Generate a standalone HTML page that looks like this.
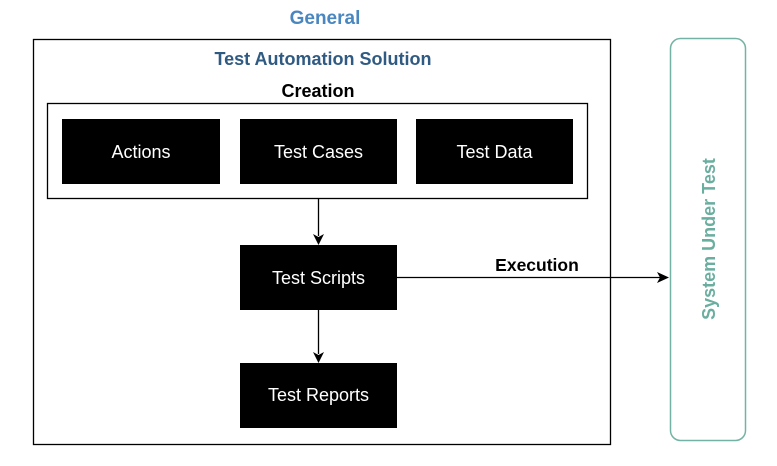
<!DOCTYPE html>
<html><head><style>body{margin:0;background:#fff}</style></head><body>
<svg width="777" height="461" xmlns="http://www.w3.org/2000/svg" font-family="Liberation Sans, Arial, sans-serif">
<rect width="777" height="461" fill="#fff"/>
<text x="325" y="24" font-size="19" font-weight="bold" fill="#4a86bf" text-anchor="middle">General</text>
<rect x="33.5" y="39.5" width="577" height="405" fill="none" stroke="#000" stroke-width="1.3"/>
<text x="323" y="65" font-size="18" font-weight="bold" fill="#2f5a82" text-anchor="middle">Test Automation Solution</text>
<text x="318" y="97" font-size="18" font-weight="bold" fill="#000" text-anchor="middle">Creation</text>
<rect x="47.5" y="103.5" width="540" height="95" fill="none" stroke="#000" stroke-width="1.3"/>
<g fill="#000">
<rect x="62" y="119" width="158" height="65"/>
<rect x="240" y="119" width="157" height="65"/>
<rect x="416" y="119" width="157" height="65"/>
<rect x="240" y="245" width="157" height="65"/>
<rect x="240" y="363" width="157" height="65"/>
</g>
<g fill="#fff" font-size="18" text-anchor="middle">
<text x="141" y="158">Actions</text>
<text x="318.5" y="158">Test Cases</text>
<text x="494.5" y="158">Test Data</text>
<text x="318.5" y="284">Test Scripts</text>
<text x="318.5" y="401">Test Reports</text>
</g>
<g stroke="#000" stroke-width="1.3">
<line x1="318.5" y1="199" x2="318.5" y2="236"/>
<line x1="318.5" y1="310" x2="318.5" y2="354"/>
<line x1="397" y1="277.5" x2="660" y2="277.5"/>
</g>
<g fill="#000">
<path d="M313,234 L318.5,245 L324,234 L318.5,237Z"/>
<path d="M313,352 L318.5,363 L324,352 L318.5,355Z"/>
<path d="M657,272 L669,277.5 L657,283 L660,277.5Z"/>
</g>
<text x="537" y="271" font-size="17.5" font-weight="bold" fill="#000" text-anchor="middle">Execution</text>
<rect x="670.5" y="38.5" width="75" height="402" rx="10" fill="none" stroke="#73b3a5" stroke-width="1.5"/>
<text transform="translate(715,239) rotate(-90)" font-size="18" font-weight="bold" fill="#6aae9f" text-anchor="middle">System Under Test</text>
</svg>
</body></html>
